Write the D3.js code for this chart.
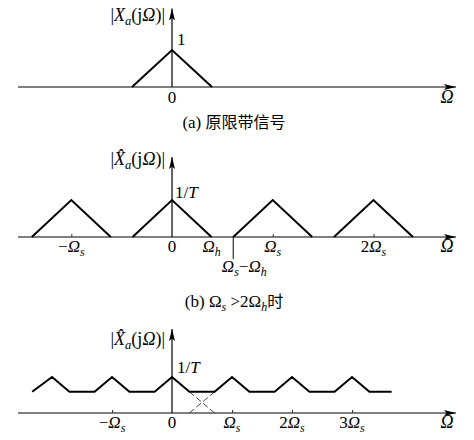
<!DOCTYPE html>
<html><head><meta charset="utf-8">
<script src="https://cdn.jsdelivr.net/npm/d3@7"></script>
<style>
html,body{margin:0;padding:0;background:#fff;}
svg{display:block;}
text{font-family:"Liberation Serif","Times New Roman",Times,serif;fill:#000;}
</style>
</head><body>
<svg id="chart" width="474" height="440"></svg>
<script>
// ---------- Panel (a): original band-limited spectrum (Ω in units of Ωh) ----------
const aOmega = [-1, 0, 1];
const aMag = [0, 1, 0];
const aDomain = [-3.85, 7.1];
const aTickVals = [0];
const aTickLabels = ["0"];
const aYLabel = "|X_a(jΩ)|";
const aPeakLabel = "1";
const aCaption = "(a) 原限带信号";

// ---------- Panel (b): Ωs > 2Ωh (Ω in units of Ωh, Ωs ≈ 2.55Ωh) ----------
const bTriOmega = [
  [-3.55, -2.55, -1.55],
  [-1, 0, 1],
  [1.55, 2.55, 3.55],
  [4.1, 5.1, 6.1]
];
const bTriMag = [0, 1, 0];
const bDomain = [-3.9, 7.19];
const bTickVals = [-2.55, 0, 1, 2.55, 5.1];
const bTickLabels = ["−Ω_s", "0", "Ω_h", "Ω_s", "2Ω_s"];
const bMarkVals = [-2.55, 2.55, 5.1];
const bGapVal = 1.55;
const bGapLabel = "Ω_s−Ω_h";
const bYLabel = "|X\u0302_a(jΩ)|";
const bPeakLabel = "1/T";
const bCaption = "(b) Ω_s >2Ω_h时";

// ---------- Panel (c): aliasing (Ω in units of Ωs) ----------
const cOmega = [-2.33, -2, -1.71, -1.29, -1, -0.71, -0.29, 0, 0.29, 0.71, 1, 1.29, 1.71, 2, 2.29, 2.71, 3, 3.29, 3.66];
const cMag   = [0.59, 1, 0.59, 0.59, 1, 0.59, 0.59, 1, 0.59, 0.59, 1, 0.59, 0.59, 1, 0.59, 0.59, 1, 0.59, 0.59];
const cDash1Omega = [0.29, 0.71], cDash1Mag = [0.59, 0];
const cDash2Omega = [0.29, 0.71], cDash2Mag = [0, 0.59];
const cDomain = [-2.567, 4.733];
const cTickVals = [-1, 0, 1, 2, 3];
const cTickLabels = ["−Ω_s", "0", "Ω_s", "2Ω_s", "3Ω_s"];
const cMarkVals = [-1, 1, 2, 3];
const cYLabel = "|X\u0302_a(jΩ)|";
const cPeakLabel = "1/T";

const FONT = '"Liberation Serif","Times New Roman",Times,serif';
const MATH = 17;

const svg = d3.select("#chart");
const defs = svg.append("defs");
defs.append("marker").attr("id","arr").attr("markerUnits","userSpaceOnUse")
  .attr("markerWidth",13).attr("markerHeight",8).attr("refX",12).attr("refY",3.5)
  .attr("orient","auto")
  .append("path").attr("d","M0,0.5 L12,3.5 L0,6.5 L2.5,3.5 Z").attr("fill","#000");

function rich(sel, str, italicChars) {
  const it = italicChars === undefined ? "ΩTX" : italicChars;
  sel.attr("font-family", FONT);
  let down = false;
  for (let i = 0; i < str.length; i++) {
    let ch = str[i];
    if (ch === "_") {
      const c = str[i+1]; i++;
      sel.append("tspan").attr("dy", 4).attr("font-size","0.7em").attr("font-style","italic").text(c);
      down = true;
      continue;
    }
    while (i + 1 < str.length && /[\u0300-\u036f]/.test(str[i+1])) { ch += str[i+1]; i++; }
    const t = sel.append("tspan").text(ch).attr("font-style", it.includes(ch[0]) ? "italic" : "normal");
    if (/[\u4e00-\u9fff]/.test(ch)) t.attr("font-family","Noto Sans CJK SC").attr("font-size","16px");
    if (down) { t.attr("dy", -4); down = false; }
  }
}

function panel(cfg) {
  const x = d3.scaleLinear().domain(cfg.domain).range([18, 456]);
  const y = d3.scaleLinear().domain([0, 1]).range([cfg.y0, cfg.y1]);
  const g = svg.append("g");
  g.append("line").attr("x1", x(cfg.domain[0])).attr("x2", x(cfg.domain[1]))
    .attr("y1", y(0)).attr("y2", y(0)).attr("stroke","#555").attr("stroke-width",1.6)
    .attr("marker-end","url(#arr)");
  const ax = d3.axisBottom(x).tickValues(cfg.marks).tickSize(-3).tickFormat("");
  const axg = g.append("g").attr("transform",`translate(0,${y(0)})`).call(ax);
  axg.select(".domain").remove();
  axg.selectAll(".tick line").attr("stroke","#333").attr("stroke-width",1);
  g.append("line").attr("x1", x(0)).attr("x2", x(0)).attr("y1", y(0)).attr("y2", y(cfg.yTop))
    .attr("stroke","#000").attr("stroke-width",1.2).attr("marker-end","url(#arr)");
  cfg.tickVals.forEach((v, i) => {
    const t = g.append("text").attr("x", x(v)).attr("y", y(0) + cfg.labelDy)
      .attr("text-anchor","middle").attr("font-size", MATH + "px");
    rich(t, cfg.tickLabels[i]);
  });
  g.append("text").attr("x", 447).attr("y", y(0) + cfg.labelDy).attr("text-anchor","middle")
    .attr("font-family", FONT).attr("font-size","18px").attr("font-style","italic").text("Ω");
  const yl = g.append("text").attr("x", x(0) - 7).attr("y", cfg.yLabelY).attr("text-anchor","end").attr("font-size", "18px");
  rich(yl, cfg.yLabel);
  const pl = g.append("text").attr("x", x(0) + cfg.peakDx).attr("y", y(1) - cfg.peakDy).attr("font-size", MATH + "px");
  rich(pl, cfg.peakLabel);
  return {g, x, y};
}

const line = (x, y) => d3.line().x(d => x(d[0])).y(d => y(d[1]));

// Panel (a)
{
  const {g, x, y} = panel({domain: aDomain, y0: 87, y1: 50, yTop: 2.12, marks: [],
    tickVals: aTickVals, tickLabels: aTickLabels, labelDy: 16, yLabel: aYLabel, yLabelY: 21,
    peakLabel: aPeakLabel, peakDx: 5, peakDy: 5});
  g.append("path").attr("d", line(x, y)(d3.zip(aOmega, aMag)))
    .attr("fill","none").attr("stroke","#000").attr("stroke-width",2);
  const c = svg.append("text").attr("x", 234).attr("y", 128).attr("text-anchor","middle").attr("font-size","17px");
  rich(c, aCaption, "");
}

// Panel (b)
{
  const {g, x, y} = panel({domain: bDomain, y0: 237, y1: 200, yTop: 2.16, marks: bMarkVals,
    tickVals: bTickVals, tickLabels: bTickLabels, labelDy: 15, yLabel: bYLabel, yLabelY: 165,
    peakLabel: bPeakLabel, peakDx: 3, peakDy: 2});
  bTriOmega.forEach(tri => {
    g.append("path").attr("d", line(x, y)(d3.zip(tri, bTriMag)))
      .attr("fill","none").attr("stroke","#000").attr("stroke-width",2);
  });
  g.append("line").attr("x1", x(bGapVal)).attr("x2", x(bGapVal)).attr("y1", y(0)).attr("y2", y(0) + 22)
    .attr("stroke","#000").attr("stroke-width",1);
  const t = g.append("text").attr("x", x(bGapVal) + 11).attr("y", y(0) + 35).attr("text-anchor","middle").attr("font-size", MATH + "px");
  rich(t, bGapLabel);
  const c = svg.append("text").attr("x", 234).attr("y", 307).attr("text-anchor","middle").attr("font-size","17px");
  rich(c, bCaption, "");
}

// Panel (c)
{
  const {g, x, y} = panel({domain: cDomain, y0: 413, y1: 377, yTop: 2.33, marks: cMarkVals,
    tickVals: cTickVals, tickLabels: cTickLabels, labelDy: 15, yLabel: cYLabel, yLabelY: 345,
    peakLabel: cPeakLabel, peakDx: 5, peakDy: 4});
  [[cDash1Omega, cDash1Mag], [cDash2Omega, cDash2Mag]].forEach(([o, m]) => {
    g.append("path").attr("d", line(x, y)(d3.zip(o, m)))
      .attr("fill","none").attr("stroke","#444").attr("stroke-width",1).attr("stroke-dasharray","6,3");
  });
  g.append("path").attr("d", line(x, y)(d3.zip(cOmega, cMag)))
    .attr("fill","none").attr("stroke","#000").attr("stroke-width",2).attr("stroke-linejoin","miter");
}
</script>
</body></html>
